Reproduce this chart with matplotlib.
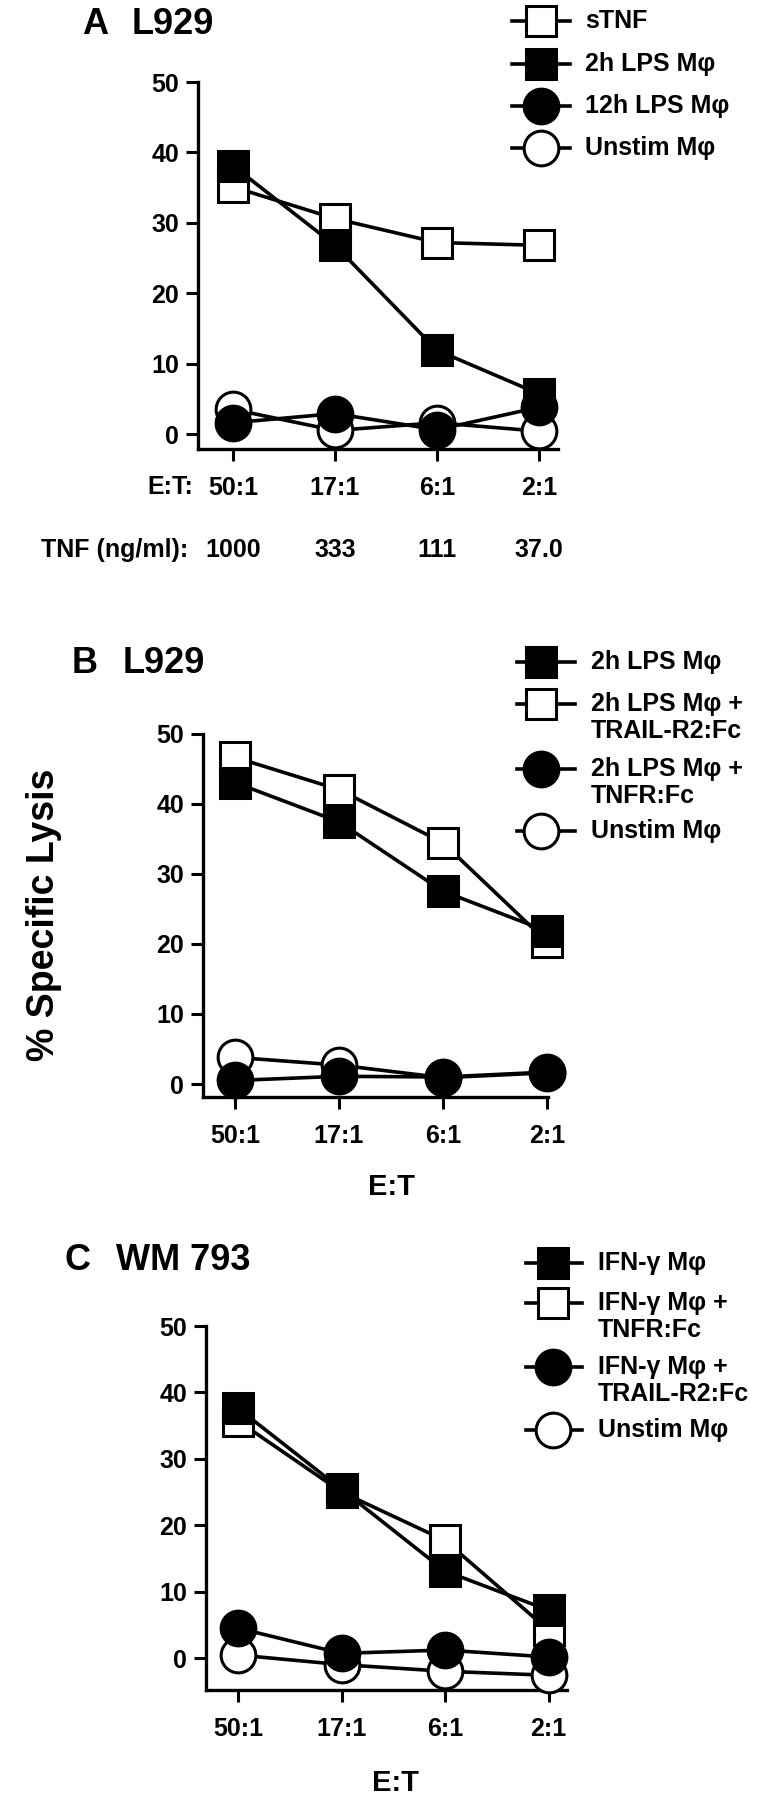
import matplotlib
matplotlib.use('Agg')
import matplotlib.pyplot as plt
from matplotlib.lines import Line2D
from matplotlib.transforms import blended_transform_factory

plt.rcParams['font.family'] = ['Liberation Sans', 'DejaVu Sans']
plt.rcParams['font.weight'] = 'bold'

W, H = 766, 1800

# datos
ratios = ['50:1', '17:1', '6:1', '2:1']
tnf_conc = ['1000', '333', '111', '37.0']
y_ticks = [0, 10, 20, 30, 40, 50]

# Panel A  L929
a_stnf = [35.1, 30.6, 27.2, 26.8]
a_lps2h = [38.1, 26.8, 11.9, 5.7]
a_lps12h = [1.6, 2.9, 0.6, 3.8]
a_unstim = [3.5, 0.5, 1.6, 0.4]

# Panel B  L929
b_lps2h = [43.0, 37.4, 27.5, 21.8]
b_trail = [46.6, 42.0, 34.4, 20.3]
b_tnfr = [0.5, 1.1, 1.0, 1.7]
b_unstim = [3.8, 2.7, 0.9, 1.6]

# Panel C  WM 793
c_ifn = [37.6, 25.4, 13.1, 7.2]
c_tnfr = [35.7, 25.0, 17.7, 4.2]
c_trail = [4.5, 0.7, 1.2, 0.15]
c_unstim = [0.45, -1.0, -2.0, -2.6]

MS = {'s': 21.6, 'o': 25}
LW = 2.6
MEW = 2.2
FS_TICK = 18
FS_TITLE = 26

fig = plt.figure(figsize=(W / 100, H / 100), dpi=100)


def fx(px):
    return px / W


def fy(py):
    return 1 - py / H


def make_axes(left, right, top, bottom, t0, dt, y0, show_xlabels=True):
    # left/right/top/bottom en pixeles, t0 = pixel del primer tick, dt = separacion
    ax = fig.add_axes([fx(left), fy(bottom), (right - left) / W, (bottom - top) / H])
    per = (y0 - top) / 50.0
    ax.set_xlim((left - t0) / dt, (right - t0) / dt)
    ax.set_ylim(-(bottom - y0) / per, 50)
    for s in ['top', 'right']:
        ax.spines[s].set_visible(False)
    for s in ['left', 'bottom']:
        ax.spines[s].set_linewidth(2.4)
    ax.set_xticks(range(len(ratios)))
    ax.set_xticklabels(ratios if show_xlabels else [])
    ax.set_yticks(y_ticks)
    ax.tick_params(axis='both', direction='out', length=8.6, width=2.2,
                   labelsize=FS_TICK)
    ax.tick_params(axis='y', pad=5)
    ax.tick_params(axis='x', pad=11)
    for lab in ax.get_xticklabels() + ax.get_yticklabels():
        lab.set_fontweight('bold')
    return ax


def plot_series(ax, vals, marker, face, z):
    x = range(len(vals))
    ax.plot(x, vals, color='black', lw=LW, zorder=2, clip_on=False)
    ax.plot(x, vals, ls='none', marker=marker, ms=MS[marker], mfc=face,
            mec='black', mew=MEW, zorder=z, clip_on=False)


def legend(x0, x1, xm, xt, entries):
    for ym, lines, marker, face in entries:
        fig.add_artist(Line2D([fx(x0), fx(x1)], [fy(ym), fy(ym)],
                              transform=fig.transFigure, color='black', lw=LW))
        fig.add_artist(Line2D([fx(xm)], [fy(ym)], transform=fig.transFigure,
                              ls='none', marker=marker, ms=MS[marker], mfc=face,
                              mec='black', mew=MEW))
        for i, t in enumerate(lines):
            fig.text(fx(xt), fy(ym + 27 * i), t, fontsize=FS_TICK,
                     fontweight='bold', va='center', ha='left')


# ---------------- Panel A ----------------
axA = make_axes(198, 558, 82, 449, 233, 102, 434, show_xlabels=True)
plot_series(axA, a_stnf, 's', 'white', 3)
plot_series(axA, a_unstim, 'o', 'white', 4)
plot_series(axA, a_lps2h, 's', 'black', 5)
plot_series(axA, a_lps12h, 'o', 'black', 6)
fig.text(fx(82), fy(25), 'A', fontsize=FS_TITLE, fontweight='bold', va='center')
fig.text(fx(132), fy(25), 'L929', fontsize=FS_TITLE, fontweight='bold', va='center')
fig.text(fx(193), fy(487), 'E:T:', fontsize=FS_TICK, fontweight='bold',
         va='center', ha='right')
fig.text(fx(188), fy(550), 'TNF (ng/ml):', fontsize=FS_TICK, fontweight='bold',
         va='center', ha='right')
trA = blended_transform_factory(axA.transData, fig.transFigure)
for i, c in enumerate(tnf_conc):
    axA.text(i, fy(550), c, transform=trA, fontsize=FS_TICK, fontweight='bold',
             va='center', ha='center')
legend(512, 570, 541, 585, [
    (21, ['sTNF'], 's', 'white'),
    (63.5, ['2h LPS Mφ'], 's', 'black'),
    (106, ['12h LPS Mφ'], 'o', 'black'),
    (148, ['Unstim Mφ'], 'o', 'white'),
])

# ---------------- Panel B ----------------
axB = make_axes(203, 548, 733.5, 1097, 235, 104, 1084)
plot_series(axB, b_trail, 's', 'white', 3)
plot_series(axB, b_unstim, 'o', 'white', 4)
plot_series(axB, b_lps2h, 's', 'black', 5)
plot_series(axB, b_tnfr, 'o', 'black', 6)
fig.text(fx(72), fy(663), 'B', fontsize=FS_TITLE, fontweight='bold', va='center')
fig.text(fx(123), fy(663), 'L929', fontsize=FS_TITLE, fontweight='bold', va='center')
fig.text(fx(392), fy(1187), 'E:T', fontsize=21, fontweight='bold',
         va='center', ha='center')
fig.text(fx(44), fy(915), '% Specific Lysis', fontsize=27, fontweight='bold',
         rotation=90, va='center', ha='center')
legend(517, 575, 541, 591, [
    (661.5, ['2h LPS Mφ'], 's', 'black'),
    (704, ['2h LPS Mφ +', 'TRAIL-R2:Fc'], 's', 'white'),
    (769, ['2h LPS Mφ +', 'TNFR:Fc'], 'o', 'black'),
    (831, ['Unstim Mφ'], 'o', 'white'),
])

# ---------------- Panel C ----------------
axC = make_axes(206, 567, 1326, 1690, 238, 103.5, 1658)
plot_series(axC, c_tnfr, 's', 'white', 3)
plot_series(axC, c_unstim, 'o', 'white', 4)
plot_series(axC, c_ifn, 's', 'black', 5)
plot_series(axC, c_trail, 'o', 'black', 6)
fig.text(fx(65), fy(1261), 'C', fontsize=FS_TITLE, fontweight='bold', va='center')
fig.text(fx(116), fy(1261), 'WM 793', fontsize=FS_TITLE, fontweight='bold', va='center')
fig.text(fx(395), fy(1783), 'E:T', fontsize=21, fontweight='bold',
         va='center', ha='center')
legend(526, 582, 553, 598, [
    (1263, ['IFN-γ Mφ'], 's', 'black'),
    (1303, ['IFN-γ Mφ +', 'TNFR:Fc'], 's', 'white'),
    (1367, ['IFN-γ Mφ +', 'TRAIL-R2:Fc'], 'o', 'black'),
    (1430, ['Unstim Mφ'], 'o', 'white'),
])

fig.savefig('out.png', dpi=100, facecolor='white')
